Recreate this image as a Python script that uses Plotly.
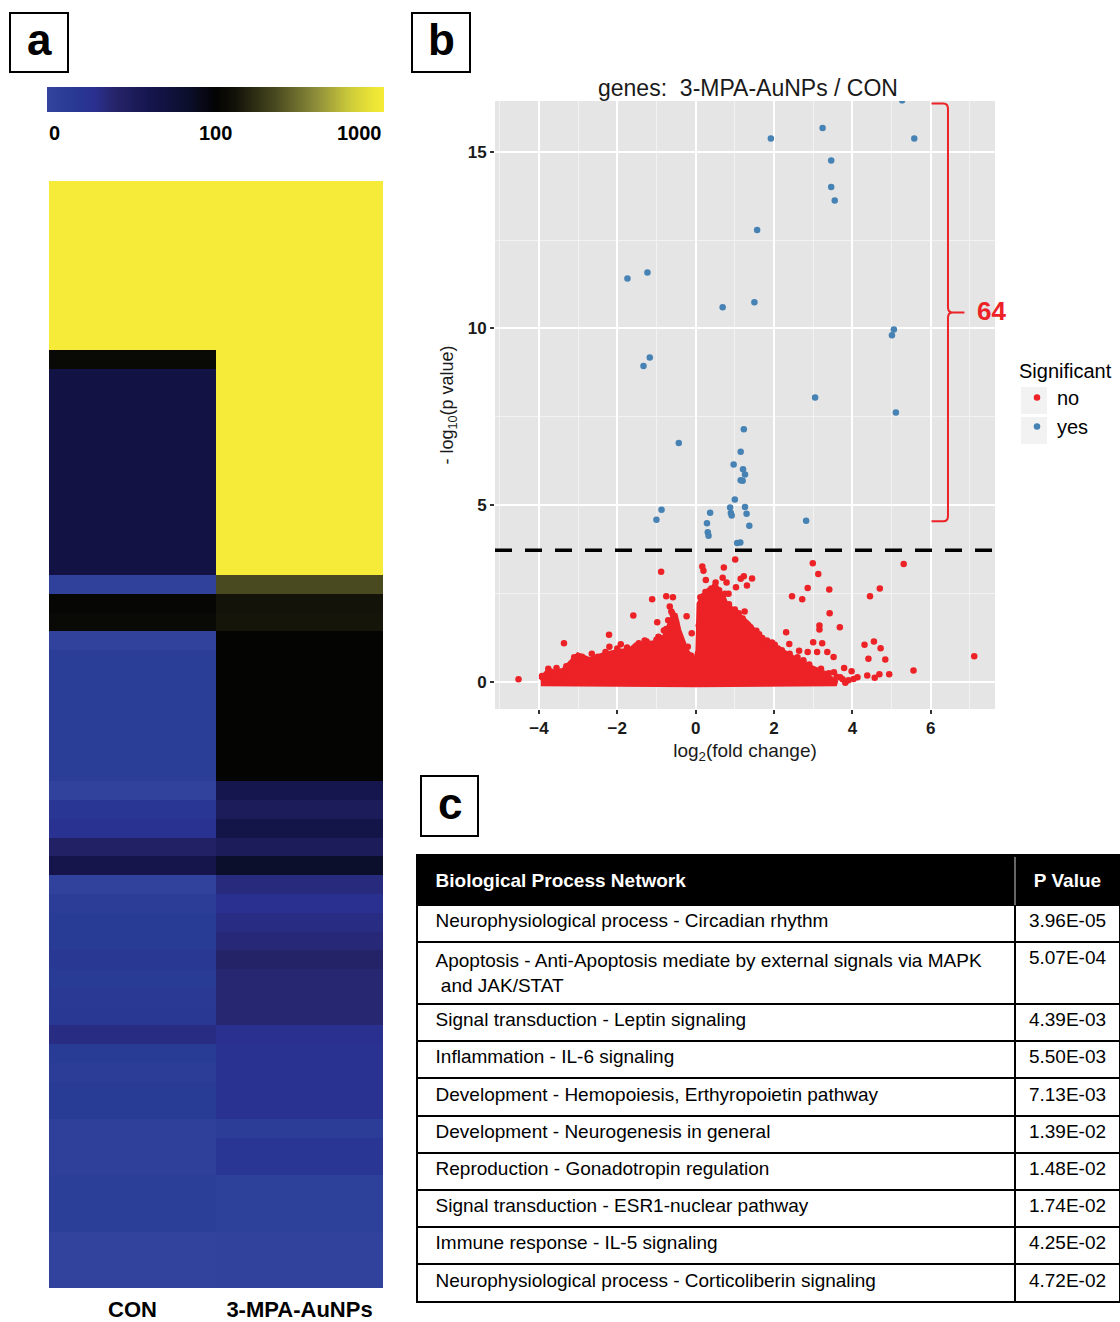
import numpy as np
import plotly.graph_objects as go

W, H = 1120, 1322
FONT = "Liberation Sans, Arial, sans-serif"

# ---------------- panel a: heatmap data ----------------
samples = ["CON", "3-MPA-AuNPs"]
con_expr = ([1000] * 9 + [110] + [68] * 11 + [4, 105, 110, 3] + [9] * 7 +
            [3, 20, 26, 44, 62, 3, 10, 12, 12, 18, 12, 16, 18, 32, 12, 10, 12, 12,
             6, 6, 6, 8, 8, 8, 2, 2, 2])
aunp_expr = ([1000] * 21 + [229, 132, 135] + [102] * 8 +
             [60, 52, 66, 52, 84, 34, 28, 32, 36, 42, 38, 38, 38, 28, 26, 26, 26, 26,
              10, 20, 20, 5, 5, 5, 3, 3, 3])
colorbar_labels = ["0", "100", "1000"]

# ---------------- panel b: volcano data ----------------
sig_x = [-1.74, -1.23, 0.69, 1.50, 1.57, 1.92, 3.24, 3.46, 3.46, 3.55, 5.27, 5.58, 5.06, 5.01,
         5.11, 3.05, -1.17, -1.33, -0.43, 1.23, 1.15, 0.97, 1.21, 1.26, 1.15, 1.20, 1.00, 1.26,
         1.30, 0.88, 0.90, 0.92, 1.37, 0.37, 0.29, 0.31, 0.33, 1.06, 1.14, -0.87, -1.00, 2.82]
sig_y = [11.41, 11.58, 10.60, 10.74, 12.78, 15.37, 15.67, 14.75, 14.00, 13.62, 16.45, 15.37, 9.97, 9.81,
         7.62, 8.05, 9.18, 8.94, 6.76, 7.15, 6.51, 6.15, 6.02, 5.87, 5.71, 5.69, 5.16, 4.95,
         4.76, 4.94, 4.78, 4.71, 4.42, 4.79, 4.49, 4.24, 4.14, 3.93, 3.95, 4.87, 4.59, 4.56]

ns_x = [-4.52, -3.36, -3.76, -3.88, -2.21, -1.91, -1.59, -1.11, -0.88, -0.75, -0.58, -0.98, -0.81,
        -0.66, -0.59, -0.23, -0.10, 0.17, 0.20, 0.26, 0.72, 1.01, 0.69, 0.79, 0.51, 0.49, 1.15,
        1.23, 1.44, 1.03, 1.31, 0.84, 0.19, 1.25, 1.49, 1.82, 2.02, 2.31, 2.46, 2.72, 2.86, 2.99,
        3.13, 3.41, 3.42, 3.16, 3.16, 3.68, 3.00, 3.23, 2.86, 3.10, 3.36, 3.52, 2.39, 2.64, 2.23,
        2.75, 3.79, 3.98, 4.03, 4.13, 4.38, 4.31, 4.55, 4.41, 4.72, 4.84, 4.45, 4.70, 4.57, 4.69,
        4.94, 5.31, 5.56, 7.11, 2.51, 2.90, 3.29, 3.53, 3.69, -3.20, -3.05, -2.95, -2.75, -2.60,
        -2.40, -2.15, -1.80, -3.50, -3.35, -3.60,
        # ragged edge of the dense cloud
        -3.92, -3.70, -3.55, -3.30, -3.10, -2.90, -2.85, -2.50, -2.30, -2.00, -1.75, -1.45,
        -1.25, -1.00, -0.90, -0.75, -0.70, -0.62, -0.50, -0.42, -0.35, -0.20, -0.12, 0.08,
        0.12, 0.25, 0.40, 0.60, 0.75, 0.85, 1.00, 1.10, 1.20, 1.40, 1.55, 1.70, 1.85, 2.10,
        2.40, 2.60, 2.90, 3.20, 3.40, 3.60, 3.75, 3.90, -3.85, -3.65, 3.82, -2.65, -1.30,
        -0.95, 1.62, 1.95, 2.20, 2.75, -3.45, -2.20]
ns_y = [0.08, 1.10, 0.38, 0.14, 1.34, 1.07, 1.88, 2.34, 3.12, 2.43, 2.40, 1.69, 1.46,
        2.14, 1.93, 1.86, 1.38, 3.27, 3.15, 2.89, 3.24, 3.47, 2.95, 2.82, 2.82, 2.70, 2.92,
        2.99, 2.93, 2.68, 2.73, 2.50, 2.43, 2.00, 1.41, 1.18, 1.06, 1.41, 2.43, 2.34, 2.66, 3.36,
        3.06, 2.62, 1.95, 1.60, 1.49, 1.55, 1.13, 1.10, 0.85, 0.85, 0.85, 0.71, 1.08, 0.89, 0.82,
        0.56, 0.40, 0.31, 0.09, 0.14, 0.19, 1.06, 1.15, 0.66, 0.96, 0.64, 2.43, 2.65, 0.12, 0.22,
        0.22, 3.34, 0.33, 0.73, 0.14, 0.05, 0.24, 0.28, 0.14, 0.35, 0.55, 0.50, 0.30, 0.65,
        0.45, 0.70, 0.75, 0.05, 0.10, 0.20,
        0.17, 0.30, 0.40, 0.45, 0.70, 0.72, 0.60, 0.72, 0.85, 0.95, 0.98, 1.10,
        1.15, 1.20, 1.25, 1.50, 1.75, 2.00, 1.70, 1.30, 1.10, 1.00, 0.75, 1.60,
        2.40, 2.55, 2.65, 2.60, 2.50, 2.20, 2.05, 1.95, 1.80, 1.55, 1.45, 1.25, 1.10, 0.95,
        0.80, 0.70, 0.50, 0.38, 0.25, 0.15, 0.08, 0.05, 0.00, -0.02, -0.02, 0.80, 1.18,
        1.28, 1.35, 1.12, 0.90, 0.62, 0.30, 1.00]

# outline of the dense (overplotted) non-significant cloud
cloud_x = [-3.95, -3.80, -3.39, -3.20, -3.00, -2.70, -2.31, -1.97, -1.67, -1.52, -1.13, -0.84,
           -0.64, -0.54, -0.44, -0.25, -0.07, 0.00, 0.07, 0.10, 0.20, 0.34, 0.54, 0.69, 0.76,
           0.93, 1.13, 1.33, 1.52, 1.72, 2.02, 2.26, 2.51, 2.80, 3.10, 3.39, 3.60, 0.00, -3.95]
cloud_y = [0.05, 0.25, 0.30, 0.52, 0.75, 0.62, 0.78, 0.85, 0.89, 1.04, 1.10, 1.13,
           1.65, 1.93, 1.46, 0.89, 0.60, 0.55, 0.89, 2.21, 2.40, 2.59, 2.64, 2.40, 2.21,
           2.02, 1.84, 1.65, 1.41, 1.13, 0.99, 0.85, 0.66, 0.47, 0.33, 0.14, -0.03, -0.06, -0.03]

THRESHOLD = 3.73
N_SIGNIFICANT = 64

# ---------------- panel c: table data ----------------
table_header = ["Biological Process Network", "P Value"]
networks = [
    "Neurophysiological process - Circadian rhythm",
    "Apoptosis - Anti-Apoptosis mediate by external signals via MAPK<br> and JAK/STAT",
    "Signal transduction - Leptin signaling",
    "Inflammation - IL-6 signaling",
    "Development - Hemopoiesis, Erthyropoietin pathway",
    "Development - Neurogenesis in general",
    "Reproduction - Gonadotropin regulation",
    "Signal transduction - ESR1-nuclear pathway",
    "Immune response - IL-5 signaling",
    "Neurophysiological process - Corticoliberin signaling",
]
p_values = ["3.96E-05", "5.07E-04", "4.39E-03", "5.50E-03", "7.13E-03",
            "1.39E-02", "1.48E-02", "1.74E-02", "4.25E-02", "4.72E-02"]


def px(x):
    return x / W


def py(y):
    return 1 - y / H


def level(v):
    return 0.5 * v / 100 if v <= 100 else 0.5 + 0.5 * np.log10(v / 100)


cscale = [[0.0, "#32449D"], [0.06, "#293C95"], [0.14, "#2A3090"], [0.20, "#26246A"],
          [0.30, "#16164F"], [0.34, "#121344"], [0.42, "#0C0F2C"], [0.50, "#030303"],
          [0.56, "#131309"], [0.68, "#4A4A20"], [0.80, "#8E8E3A"], [0.90, "#CDCB3A"],
          [0.97, "#EDE636"], [1.0, "#F5EB38"]]

fig = go.Figure()

zvals = [[level(c), level(a)] for c, a in zip(con_expr, aunp_expr)]
fig.add_trace(go.Heatmap(
    z=zvals, x=samples, y=list(range(len(con_expr))), zmin=0, zmax=1,
    colorscale=cscale, xaxis="x", yaxis="y", hoverinfo="skip",
    colorbar=dict(orientation="h", x=px(47), xanchor="left", y=py(87), yanchor="top",
                  len=(384 - 47) / W, lenmode="fraction", thickness=25,
                  xpad=0, ypad=0, outlinewidth=0, showticklabels=False, ticks=""),
))

RED = "#EC2227"
BLUE = "#4682B4"
fig.add_trace(go.Scatter(x=cloud_x, y=cloud_y, fill="toself", fillcolor=RED, mode="lines",
                         line=dict(color=RED, width=6), xaxis="x2", yaxis="y2",
                         showlegend=False, hoverinfo="skip", legendgroup="no"))
fig.add_trace(go.Scatter(x=ns_x, y=ns_y, mode="markers", name="no", legendgroup="no",
                         marker=dict(color=RED, size=6.5), xaxis="x2", yaxis="y2"))
fig.add_trace(go.Scatter(x=sig_x, y=sig_y, mode="markers", name="yes", legendgroup="yes",
                         marker=dict(color=BLUE, size=6.5), xaxis="x2", yaxis="y2"))

fig.add_trace(go.Table(
    domain=dict(x=[px(417), 1.0], y=[py(1305), py(862)]),
    columnwidth=[598, 105],
    header=dict(values=["<b>\u00a0\u00a0" + table_header[0] + "</b>", "<b>" + table_header[1] + "</b>"],
                fill_color="black", line=dict(color="black", width=2),
                font=dict(family=FONT, size=19, color="white"),
                align=["left", "center"], height=43),
    cells=dict(values=[["\u00a0\u00a0" + n.replace("<br> ", "<br>\u00a0\u00a0\u00a0") for n in networks],
                       p_values],
               fill_color="white", line=dict(color="black", width=2),
               font=dict(family=FONT, size=19, color="black"),
               align=["left", "center"], height=37.2),
))

tickfont = dict(family=FONT, size=17, color="#1a1a1a", weight="bold")
fig.update_layout(
    width=W, height=H, margin=dict(l=0, r=0, t=0, b=0, autoexpand=False),
    paper_bgcolor="white", plot_bgcolor="#E5E5E5",
    font=dict(family=FONT, color="#1a1a1a"),
    xaxis=dict(domain=[px(49), px(383)], anchor="y", showgrid=False, zeroline=False,
               ticks="", ticklabelstandoff=6, automargin=False,
               tickfont=dict(family=FONT, size=22, color="black", weight="bold")),
    yaxis=dict(domain=[py(1288), py(181)], anchor="x", autorange="reversed", automargin=False,
               showticklabels=False, showgrid=False, zeroline=False, ticks=""),
    xaxis2=dict(domain=[px(495), px(995)], anchor="y2", range=[-5.12, 7.64], automargin=False,
                tick0=0, dtick=2, showgrid=True, gridcolor="white", gridwidth=1.8,
                minor=dict(dtick=1, tick0=0, showgrid=True, gridcolor="#F2F2F2", gridwidth=0.8),
                zeroline=False, ticks="outside", ticklen=4, tickwidth=1.5, tickcolor="#333",
                tickfont=tickfont,
                title=dict(text="log<sub>2</sub>(fold change)", standoff=6,
                           font=dict(family=FONT, size=19, color="#1a1a1a"))),
    yaxis2=dict(domain=[py(709), py(101)], anchor="x2", range=[-0.76, 16.43], automargin=False,
                tick0=0, dtick=5, showgrid=True, gridcolor="white", gridwidth=1.8,
                minor=dict(dtick=2.5, tick0=0, showgrid=True, gridcolor="#F2F2F2", gridwidth=0.8),
                zeroline=False, ticks="outside", ticklen=4, tickwidth=1.5, tickcolor="#333",
                tickfont=tickfont,
                title=dict(text="- log<sub>10</sub>(p value)", standoff=9,
                           font=dict(family=FONT, size=18, color="#1a1a1a"))),
    legend=dict(x=px(1017), y=py(352), xanchor="left", yanchor="top",
                bgcolor="rgba(0,0,0,0)", itemsizing="trace", tracegroupgap=0,
                title=dict(text="Significant", font=dict(family=FONT, size=20, color="black")),
                font=dict(family=FONT, size=20, color="black")),
    showlegend=True,
)

shapes = []
# panel letter boxes
for (x0, y0, x1, y1) in [(10, 13, 68, 72), (412, 13, 470, 72), (421, 776, 478, 836)]:
    shapes.append(dict(type="rect", xref="paper", yref="paper", x0=px(x0), x1=px(x1),
                       y0=py(y1), y1=py(y0), line=dict(color="black", width=2)))
# legend key backgrounds
for (y0, y1) in [(387, 414), (417, 444)]:
    shapes.append(dict(type="rect", xref="paper", yref="paper", x0=px(1021), x1=px(1047),
                       y0=py(y1), y1=py(y0), fillcolor="#F2F2F2", line=dict(width=0), layer="below"))
# threshold line
shapes.append(dict(type="line", xref="x2 domain", yref="y2", x0=0, x1=1, y0=THRESHOLD, y1=THRESHOLD,
                   line=dict(color="black", width=3.5, dash="17px,13px")))
# red bracket
bx0, bxv, bxt = 6.02, 6.44, 6.86
ytop, ymid, ybot = 16.36, 10.45, 4.55
path = (f"M {bx0},{ytop} L {bxv-0.12},{ytop} Q {bxv},{ytop} {bxv},{ytop-0.15} "
        f"L {bxv},{ymid+0.15} Q {bxv},{ymid} {bxv+0.12},{ymid} L {bxt},{ymid} "
        f"M {bxv+0.12},{ymid} Q {bxv},{ymid} {bxv},{ymid-0.15} "
        f"L {bxv},{ybot+0.15} Q {bxv},{ybot} {bxv-0.12},{ybot} L {bx0},{ybot}")
shapes.append(dict(type="path", xref="x2", yref="y2", path=path, line=dict(color=RED, width=2)))
# black top strip of table header (header box spans 855-905)
shapes.append(dict(type="rect", xref="paper", yref="paper", x0=px(416), x1=1.0,
                   y0=py(864), y1=py(854), fillcolor="black", line=dict(width=0)))
# header divider
shapes.append(dict(type="line", xref="paper", yref="paper", x0=px(1015), x1=px(1015),
                   y0=py(905), y1=py(857), line=dict(color="#888", width=1.5)))
fig.update_layout(shapes=shapes)

ann = []
for letter, cx, cy in [("a", 39, 40), ("b", 441, 40), ("c", 449.5, 804)]:
    ann.append(dict(text=f"<b>{letter}</b>", x=px(cx), y=py(cy), xref="paper", yref="paper",
                    showarrow=False, xanchor="center", yanchor="middle",
                    font=dict(family=FONT, size=44, color="black")))
for lab, xx, anc in zip(colorbar_labels, [47, 215, 384], ["left", "center", "right"]):
    ann.append(dict(text=f"<b>{lab}</b>", x=px(xx), y=py(133), xref="paper", yref="paper",
                    showarrow=False, xanchor=anc, yanchor="middle",
                    font=dict(family=FONT, size=20, color="black")))
ann.append(dict(text="genes:  3-MPA-AuNPs / CON", x=px(748), y=py(88), xref="paper", yref="paper",
                showarrow=False, xanchor="center", yanchor="middle",
                font=dict(family=FONT, size=23, color="#1a1a1a")))
ann.append(dict(text=f"<b>{N_SIGNIFICANT}</b>", x=7.14, y=10.5, xref="x2", yref="y2",
                showarrow=False, xanchor="left", yanchor="middle",
                font=dict(family=FONT, size=26, color=RED)))
fig.update_layout(annotations=ann)

fig.write_html("out.html")
